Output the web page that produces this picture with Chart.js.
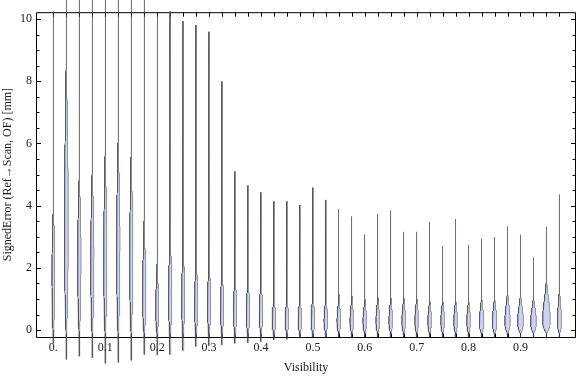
<!DOCTYPE html>
<html>
<head>
<meta charset="utf-8">
<script src="https://cdn.jsdelivr.net/npm/chart.js@4.4.0/dist/chart.umd.min.js"></script>
<style>
  html, body { margin: 0; padding: 0; background: #fff; }
  #wrap { width: 576px; height: 377px; }
</style>
</head>
<body>
<div id="wrap"><canvas id="chart" width="576" height="377"></canvas></div>
<script>
// one violin per visibility bin
var visibility = [0, 0.025, 0.05, 0.075, 0.1, 0.125, 0.15, 0.175, 0.2, 0.225,
                  0.25, 0.275, 0.3, 0.325, 0.35, 0.375, 0.4, 0.425, 0.45, 0.475,
                  0.5, 0.525, 0.55, 0.575, 0.6, 0.625, 0.65, 0.675, 0.7, 0.725,
                  0.75, 0.775, 0.8, 0.825, 0.85, 0.875, 0.9, 0.925, 0.95, 0.975];
// largest / smallest signed error of each bin [mm]
var maxError = [10.24, 11, 11, 11, 11, 11, 11, 11, 10.19, 10.24,
                9.93, 9.80, 9.59, 7.99, 5.10, 4.65, 4.43, 4.14, 4.14, 4.02,
                4.58, 4.18, 3.89, 3.66, 3.08, 3.73, 3.85, 3.16, 3.16, 3.48,
                2.70, 3.57, 2.74, 2.93, 2.99, 3.34, 3.07, 2.34, 3.32, 4.36];
var minError = [-0.42, -0.94, -0.84, -0.89, -1.07, -1.04, -0.97, -0.78, -0.80, -0.78,
                -0.65, -0.52, -0.50, -0.47, -0.42, -0.40, -0.37, -0.31, -0.29, -0.25,
                -0.22, -0.22, -0.22, -0.22, -0.22, -0.22, -0.22, -0.22, -0.22, -0.22,
                -0.22, -0.22, -0.22, -0.22, -0.22, -0.22, -0.22, -0.22, -0.22, -0.22];
// where the bulk of the distribution sits: mode, upper end of the body, relative peak density
var modeError = [2.0, 3.5, 2.5, 2.5, 2.5, 3.0, 2.5, 1.2, 0.8, 1.0,
                 1.0, 0.8, 0.8, 0.7, 0.6, 0.5, 0.5, 0.3, 0.3, 0.3,
                 0.3, 0.3, 0.3, 0.3, 0.3, 0.3, 0.3, 0.3, 0.3, 0.3,
                 0.3, 0.3, 0.3, 0.25, 0.25, 0.25, 0.25, 0.25, 0.3, 0.25];
var bodyTop = [4.4, 9.8, 5.5, 5.7, 6.3, 6.6, 6.1, 3.8, 2.2, 3.6,
               3.1, 2.8, 2.6, 2.3, 2.1, 2.0, 1.9, 1.2, 1.2, 1.2,
               1.3, 1.2, 1.2, 1.2, 1.1, 1.2, 1.2, 1.2, 1.2, 1.1,
               1.1, 1.1, 1.1, 1.2, 1.2, 1.4, 1.3, 1.2, 1.8, 1.5];
var peakDensity = [0.35, 0.50, 0.44, 0.42, 0.42, 0.44, 0.42, 0.44, 0.40, 0.44,
                   0.40, 0.40, 0.42, 0.42, 0.42, 0.44, 0.44, 0.46, 0.46, 0.46,
                   0.46, 0.46, 0.46, 0.46, 0.46, 0.46, 0.46, 0.46, 0.46, 0.47,
                   0.47, 0.47, 0.47, 0.58, 0.58, 0.70, 0.75, 0.75, 1.0, 0.53];

var xTickValues = [0, 0.1, 0.2, 0.3, 0.4, 0.5, 0.6, 0.7, 0.8, 0.9];
var xTickLabels = ['0.', '0.1', '0.2', '0.3', '0.4', '0.5', '0.6', '0.7', '0.8', '0.9'];
var yTickValues = [0, 2, 4, 6, 8, 10];
var yTickLabels = ['0', '2', '4', '6', '8', '10'];

var violinHalf = 0.0072;  // half width (x units) at density 1
var tailHalf = 0.0003;
var bodyBottom = -0.1;

function outline(i) {
  var c = visibility[i];
  var lo = bodyBottom, hi = bodyTop[i], pk = modeError[i];
  var ys = [minError[i]];
  var n = 80;
  for (var k = 0; k <= n; k++) ys.push(lo + (hi - lo) * k / n);
  ys.push(maxError[i]);
  var right = ys.map(function(y) {
    var g = 0;
    if (y > lo && y < pk) g = Math.pow(Math.sin(0.5 * Math.PI * (y - lo) / (pk - lo)), 0.8);
    else if (y >= pk && y < hi) g = Math.pow(0.5 + 0.5 * Math.cos(Math.PI * (y - pk) / (hi - pk)), 1.1);
    return { x: c + tailHalf + peakDensity[i] * violinHalf * g, y: y };
  });
  var left = right.map(function(p) { return { x: 2 * c - p.x, y: p.y }; }).reverse();
  return right.concat(left, [right[0]]);
}

var datasets = [];
for (var i = 0; i < visibility.length; i++) {
  datasets.push({
    data: outline(i),
    showLine: true,
    fill: 'shape',
    backgroundColor: 'rgb(204, 210, 246)',
    borderColor: 'rgba(60, 60, 60, 0.62)',
    borderWidth: 0.8,
    pointRadius: 0,
    tension: 0,
    clip: false
  });
}

var framePlugin = {
  id: 'frame',
  beforeDatasetsDraw: function(chart) {
    var a = chart.chartArea, ctx = chart.ctx;
    var sx = chart.scales.x, sy = chart.scales.y;
    var L = a.left - 0.5, R = a.right + 0.5, T = a.top + 0.5, B = a.bottom + 0.5;
    ctx.save();
    ctx.strokeStyle = '#000';
    ctx.lineWidth = 1;
    ctx.beginPath();
    ctx.rect(L, T, R - L, B - T);
    visibility.forEach(function(v) {
      var px = Math.round(sx.getPixelForValue(v)) + 0.5;
      ctx.moveTo(px, T); ctx.lineTo(px, T + 4);
      ctx.moveTo(px, B); ctx.lineTo(px, B - 4);
    });
    for (var t = 0; t <= 10; t += 0.5) {
      var py = Math.round(sy.getPixelForValue(t)) + 0.5;
      var len = (t % 2 === 0) ? 4.5 : 3;
      ctx.moveTo(L, py); ctx.lineTo(L + len, py);
      ctx.moveTo(R, py); ctx.lineTo(R - len, py);
    }
    ctx.stroke();
    ctx.restore();
  }
};

var serif = '"Liberation Serif", "Times New Roman", serif';

new Chart(document.getElementById('chart'), {
  type: 'scatter',
  data: { datasets: datasets },
  options: {
    responsive: false,
    animation: false,
    events: [],
    layout: { padding: { top: 4, right: 1, left: 0, bottom: 0 } },
    plugins: { legend: { display: false }, tooltip: { enabled: false } },
    scales: {
      x: {
        type: 'linear',
        min: -0.0315,
        max: 1.005,
        grid: { display: false, drawTicks: false },
        border: { display: false },
        afterBuildTicks: function(scale) {
          scale.ticks = xTickValues.map(function(v) { return { value: v }; });
        },
        afterFit: function(scale) { scale.height = 40; },
        ticks: {
          padding: 4,
          maxRotation: 0,
          autoSkip: false,
          color: '#1a1a1a',
          font: { family: serif, size: 12 },
          callback: function(v, idx) { return xTickLabels[idx]; }
        },
        title: {
          display: true,
          text: 'Visibility',
          color: '#1a1a1a',
          font: { family: serif, size: 12 },
          padding: { top: 0, bottom: 2 }
        }
      },
      y: {
        type: 'linear',
        min: -0.22,
        max: 10.22,
        grid: { display: false, drawTicks: false },
        border: { display: false },
        afterBuildTicks: function(scale) {
          scale.ticks = yTickValues.map(function(v) { return { value: v }; });
        },
        afterFit: function(scale) { scale.width = 37; },
        ticks: {
          padding: 5,
          autoSkip: false,
          color: '#1a1a1a',
          font: { family: serif, size: 12 },
          callback: function(v, idx) { return yTickLabels[idx]; }
        },
        title: {
          display: true,
          text: 'SignedError (Ref\u2192Scan, OF) [mm]',
          color: '#1a1a1a',
          font: { family: serif, size: 12 },
          padding: { top: 1, bottom: 0 }
        }
      }
    }
  },
  plugins: [framePlugin]
});
</script>
</body>
</html>
